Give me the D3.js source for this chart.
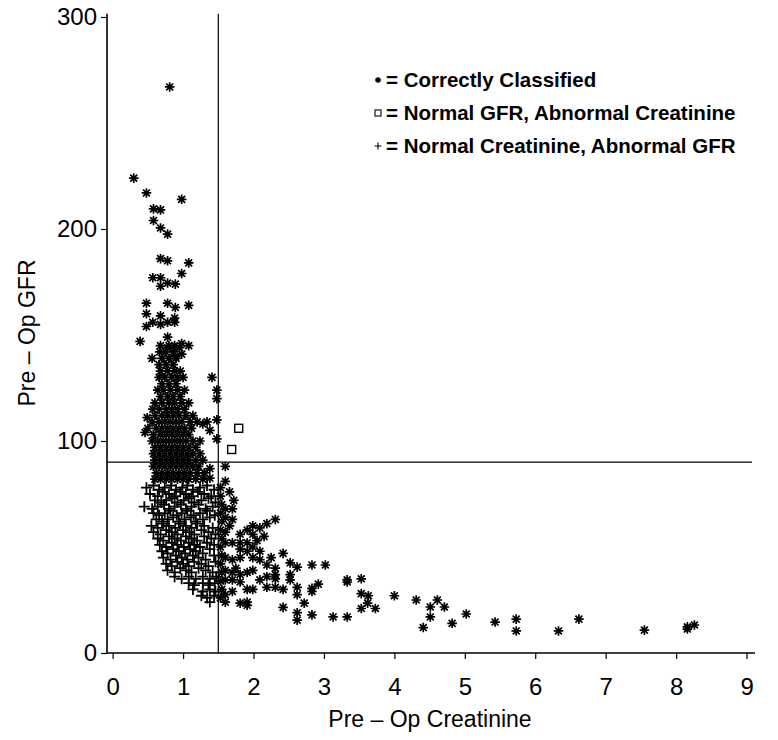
<!DOCTYPE html>
<html><head><meta charset="utf-8">
<script src="https://cdn.jsdelivr.net/npm/d3@7/dist/d3.min.js"></script>
<style>body{margin:0;background:#fff}svg{display:block}text{font-family:"Liberation Sans",Arial,sans-serif}</style>
</head><body>
<svg id="c" width="778" height="740"></svg>
<script>
// ---- data: [creatinine, GFR] ----
const xTicks = [0,1,2,3,4,5,6,7,8,9];
const yTicks = [0,100,200,300];
const creatCut = 1.5;
const gfrCut = 90;
const legendLabels = ["= Correctly Classified","= Normal GFR, Abnormal Creatinine","= Normal Creatinine, Abnormal GFR"];

const correctUpperOutliers = [
 [0.81,267],[0.30,224],[0.48,217],[0.98,214],[0.58,209.5],[0.68,209],[0.58,204],[0.68,200.5],[0.78,197.6],
 [0.68,186],[0.78,185],[1.08,184],[0.57,177],[0.68,177],[0.98,179],[0.68,173],[0.78,174.5],[0.89,174],
 [0.48,165],[0.78,165],[0.89,163],[1.08,164],[0.48,160],[0.68,159],[0.88,158],[0.57,156],[0.68,155],
 [0.78,156],[0.88,156],[0.48,154],[0.39,147],[0.78,149],[0.78,144],[0.88,145],[0.98,146],[1.08,145],
 [1.41,130],[1.48,124],[1.48,120],[1.48,110],[1.38,105],[1.48,101],[1.20,109],[1.28,108],[1.34,109],
 [0.46,104],[0.49,111],[0.56,139],[0.89,140],[0.98,141]
];
const correctUpperCluster = [
 [0.68,145],[0.80,145],[0.95,144],
 [0.67,142],[0.75,142],[0.86,142],
 [0.70,139],[0.80,139],[0.90,139],
 [0.66,136],[0.76,136],[0.86,136],
 [0.68,133],[0.78,133],[0.88,133],[0.96,133],
 [0.66,130],[0.74,130],[0.84,130],[0.92,130],[1.00,130],
 [0.70,127],[0.80,127],[0.90,127],
 [0.64,124],[0.72,124],[0.82,124],[0.92,124],[1.02,124],
 [0.68,121],[0.78,121],[0.86,121],[0.96,121],
 [0.60,118],[0.70,118],[0.80,118],[0.88,118],[0.98,118],[1.08,118],
 [0.57,115],[0.66,115],[0.76,115],[0.84,115],[0.92,115],[1.02,115],
 [0.60,112],[0.70,112],[0.78,112],[0.86,112],[0.94,112],[1.04,112],[1.14,112],
 [0.56,109],[0.66,109],[0.74,109],[0.82,109],[0.90,109],[0.98,109],[1.10,109],
 [0.50,106],[0.62,106],[0.70,106],[0.78,106],[0.86,106],[0.94,106],[1.02,106],[1.12,106],
 [0.58,103],[0.68,103],[0.76,103],[0.84,103],[0.92,103],[1.00,103],[1.08,103],
 [0.56,100],[0.64,100],[0.72,100],[0.80,100],[0.88,100],[0.96,100],[1.04,100],[1.14,100],[1.24,100],
 [0.60,97],[0.68,97],[0.76,97],[0.84,97],[0.92,97],[1.00,97],[1.08,97],[1.18,97],
 [0.58,94],[0.66,94],[0.74,94],[0.82,94],[0.90,94],[0.98,94],[1.06,94],[1.14,94],[1.24,94],
 [0.60,91],[0.68,91],[0.76,91],[0.84,91],[0.92,91],[1.00,91],[1.08,91],[1.18,91],[1.28,91],
 [0.58,88],[0.66,88],[0.74,88],[0.82,88],[0.90,88],[0.98,88],[1.06,88],[1.14,88],[1.22,88],[1.38,87],
 [0.62,85],[0.70,85],[0.78,85],[0.86,85],[0.94,85],[1.02,85],[1.10,85],[1.20,85],[1.30,85],
 [0.60,82],[0.68,82],[0.76,82],[0.84,82],[0.92,82],[1.00,82],[1.08,82],[1.18,82],[1.28,82],[1.38,82.5]
];
const correctLower = [
 [1.60,88],[1.60,81],[1.60,68],[1.70,68],[1.60,64],[1.70,63],[1.91,58],[1.99,60],[2.09,59],[2.19,61],[2.31,63],
 [1.99,56],[1.81,56],[1.60,57],[1.60,52],[1.70,52],[1.81,52],[1.91,52],[1.99,50],[2.09,48],[1.91,48],[1.81,49],
 [1.60,45],[1.70,44],[1.81,45],[1.99,45],[2.09,44],[2.19,41.5],[2.31,40],[2.31,37],[2.31,35],[2.42,47],
 [2.52,42.5],[2.62,40.5],[2.83,41.5],[3.02,41.5],[1.60,39],[1.70,38],[1.81,37],[1.91,38],[1.99,39],[2.09,34.5],
 [1.60,34.5],[1.70,34.5],[1.81,33.5],[1.91,30],[1.99,30],[2.19,31],[2.31,31],[2.42,30],[2.52,37],[2.52,34.5],
 [2.62,31],[2.62,27.5],[2.83,30.5],[2.83,29],[2.92,32.5],[2.72,23.5],[2.42,21.5],[1.60,27.5],[1.60,24],[1.70,29],
 [1.81,23.5],[1.91,24],[1.91,22.5],[2.62,19],[2.83,18],[3.13,17],[3.33,34.5],[3.33,17],[2.62,15.5],[3.33,33.5],
 [3.53,35],[3.53,28],[3.63,27],[3.62,23.5],[3.53,21],[3.73,21],[4.00,27],[4.31,25],[4.51,21.7],[4.61,25],
 [4.71,21.7],[4.51,17],[4.41,12],[4.82,14],[5.02,18.4],[5.43,14.6],[5.73,16],[5.73,10.4],[6.33,10.4],[6.62,16],
 [7.55,10.8],[8.16,12.3],[8.16,11.3],[8.26,13.2],
 [1.53,78],[1.53,74],[1.55,70],[1.53,66],[1.55,62],[1.53,58],[1.55,54],[1.53,50],[1.55,46],[1.53,42],[1.55,38],
 [1.53,34],[1.55,30],[1.53,26],[1.66,76],[1.72,72],[1.66,60],[1.75,40],[2.05,53],[2.15,55],[2.25,45],[2.19,36]
];
const normGfrAbnCreat = [[1.79,106],[1.69,96]];
const normCreatAbnGfr = [
 [0.48,78],[0.58,79],[0.66,77],[0.74,78],[0.83,79],[0.90,77],[0.99,78],[1.06,79],[1.14,77],[1.24,78],[1.34,79],[1.44,77],
 [0.53,75],[0.64,74],[0.71,76],[0.80,75],[0.88,74],[0.96,76],[1.04,75],[1.12,74],[1.21,76],[1.30,75],[1.40,74],
 [0.60,72],[0.69,71],[0.76,72],[0.84,73],[0.92,71],[1.01,72],[1.08,73],[1.16,71],[1.26,72],[1.36,73],[1.46,71],
 [0.45,69],[0.56,68],[0.64,69],[0.73,70],[0.80,68],[0.88,69],[0.97,70],[1.04,68],[1.12,69],[1.22,70],[1.32,68],[1.42,69],
 [0.58,66],[0.66,65],[0.74,66],[0.82,67],[0.91,65],[0.98,66],[1.06,67],[1.15,65],[1.24,66],[1.34,67],[1.45,65],
 [0.62,63],[0.70,62],[0.78,63],[0.86,64],[0.94,62],[1.02,63],[1.11,64],[1.18,62],[1.28,63],[1.38,64],
 [0.55,60],[0.64,59],[0.72,61],[0.80,60],[0.89,59],[0.96,61],[1.04,60],[1.12,59],[1.20,61],[1.30,60],[1.42,59],
 [0.58,57],[0.68,56],[0.76,58],[0.84,57],[0.92,56],[1.00,58],[1.09,57],[1.16,56],[1.26,58],[1.36,57],[1.46,56],
 [0.64,54],[0.72,53],[0.80,55],[0.88,54],[0.97,53],[1.04,55],[1.12,54],[1.20,53],[1.30,55],[1.40,54],
 [0.67,51],[0.76,50],[0.84,52],[0.92,51],[1.01,50],[1.08,52],[1.16,51],[1.24,50],[1.34,52],[1.44,51],
 [0.70,48],[0.78,47],[0.86,49],[0.94,48],[1.03,47],[1.10,49],[1.18,48],[1.28,47],[1.38,49],
 [0.72,45],[0.82,44],[0.90,46],[0.98,45],[1.06,44],[1.14,46],[1.22,45],[1.32,44],[1.44,46],
 [0.76,42],[0.84,41],[0.92,43],[1.00,42],[1.08,41],[1.16,43],[1.26,42],[1.36,41],[1.46,43],
 [0.78,39],[0.88,38],[0.96,40],[1.04,39],[1.12,38],[1.22,40],[1.32,39],[1.42,38],
 [0.88,36],[0.98,35],[1.08,36],[1.18,35],[1.28,36],[1.38,35],[1.47,36],
 [1.08,33],[1.16,32],[1.28,33],[1.36,32],[1.45,33],
 [1.14,30],[1.28,29],[1.38,30],[1.46,29],
 [1.26,27],[1.34,26],[1.44,27],[1.38,24]
];

// ---- drawing ----
const svg = d3.select("#c");
const x = d3.scaleLinear().domain([-0.08, 9.12]).range([107, 755]);
const y = d3.scaleLinear().domain([0, 300]).range([653, 17]);

const yAxis = d3.axisLeft(y).tickValues(yTicks).tickSize(6).tickPadding(4).tickFormat(d3.format("d"));
const yMinor = d3.axisLeft(y).tickValues(d3.range(0, 301, 10)).tickSize(3).tickFormat("");
const xAxis = d3.axisBottom(x).tickValues(xTicks).tickSize(6).tickPadding(19).tickFormat(d3.format("d"));
const xMinor = d3.axisBottom(x).tickValues(d3.range(0, 46).map(i => i * 0.2)).tickSize(3).tickFormat("");

const gy = svg.append("g").attr("transform","translate(107,0)");
gy.call(yMinor); gy.call(yAxis);
const gx = svg.append("g").attr("transform","translate(0,653)");
gx.call(xMinor); gx.call(xAxis);
svg.selectAll(".domain").remove();
svg.selectAll(".tick line").attr("stroke","#000").attr("stroke-width",1.2);
svg.selectAll(".tick text").attr("font-size",24).attr("fill","#000");
svg.append("line").attr("x1",107).attr("x2",107).attr("y1",y(301.5)).attr("y2",653).attr("stroke","#000").attr("stroke-width",1.6);
svg.append("line").attr("x1",107).attr("x2",755).attr("y1",653).attr("y2",653).attr("stroke","#000").attr("stroke-width",1.6);

svg.append("line").attr("x1",x(creatCut)).attr("x2",x(creatCut)).attr("y1",y(301.5)).attr("y2",653).attr("stroke","#000").attr("stroke-width",1.2);
svg.append("line").attr("x1",107).attr("x2",752).attr("y1",y(gfrCut)).attr("y2",y(gfrCut)).attr("stroke","#000").attr("stroke-width",1.2);

function starPath(r){const d=r*0.72;return `M0,${-r}V${r}M${-r},0H${r}M${-d},${-d}L${d},${d}M${-d},${d}L${d},${-d}`;}
function plusPath(r){return `M0,${-r}V${r}M${-r},0H${r}`;}
const pts = svg.append("g");
function drawStars(data){
  pts.selectAll(null).data(data).enter().append("path")
    .attr("transform",d=>`translate(${x(d[0])},${y(d[1])})`)
    .attr("d",starPath(4.8)).attr("stroke","#000").attr("stroke-width",1.7).attr("fill","none");
}
drawStars(correctUpperOutliers);
drawStars(correctUpperCluster);
drawStars(correctLower);
pts.selectAll(null).data(normCreatAbnGfr).enter().append("path")
  .attr("transform",d=>`translate(${x(d[0])},${y(d[1])})`)
  .attr("d",plusPath(5.5)).attr("stroke","#000").attr("stroke-width",1.8).attr("fill","none");
pts.selectAll(null).data(normGfrAbnCreat).enter().append("rect")
  .attr("x",d=>x(d[0])-4).attr("y",d=>y(d[1])-4).attr("width",8).attr("height",8)
  .attr("fill","#fff").attr("stroke","#000").attr("stroke-width",1.4);

const lg = svg.append("g");
const ly = [80, 113, 146];
lg.append("path").attr("transform",`translate(378,${ly[0]})`).attr("d",starPath(3)).attr("stroke","#000").attr("stroke-width",1.3);
lg.append("rect").attr("x",375).attr("y",ly[1]-3).attr("width",6).attr("height",6).attr("fill","#fff").attr("stroke","#000").attr("stroke-width",1.1);
lg.append("path").attr("transform",`translate(378,${ly[2]})`).attr("d",plusPath(3.5)).attr("stroke","#000").attr("stroke-width",1.1);
lg.selectAll(null).data(legendLabels).enter().append("text")
  .attr("x",386).attr("y",(d,i)=>ly[i]+7).attr("font-size",20.5).attr("font-weight","bold").text(d=>d);

svg.append("text").attr("x",430).attr("y",727).attr("text-anchor","middle").attr("font-size",23).text("Pre \u2013 Op  Creatinine");
svg.append("text").attr("transform","translate(35,333) rotate(-90)").attr("text-anchor","middle").attr("font-size",23).text("Pre \u2013 Op  GFR");
</script>
</body></html>
